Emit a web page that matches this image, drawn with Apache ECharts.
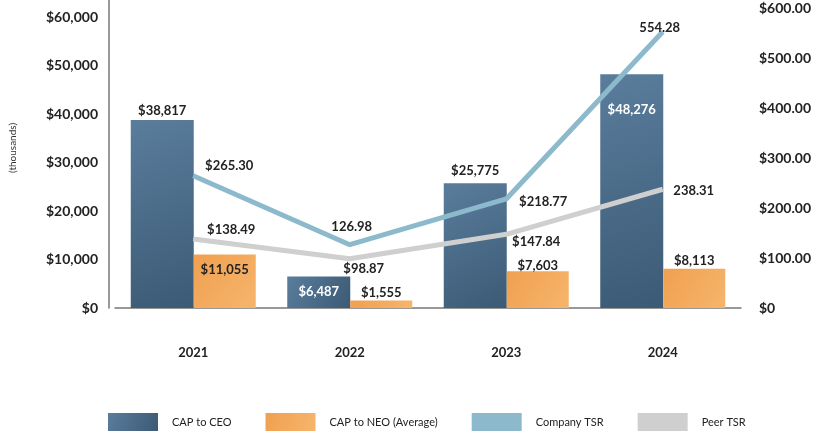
<!DOCTYPE html>
<html>
<head>
<meta charset="utf-8">
<script src="https://cdn.jsdelivr.net/npm/echarts@6/dist/echarts.min.js"></script>
<style>
  html, body { margin: 0; padding: 0; background: #fff; }
  #chart { width: 819px; height: 436px; }
</style>
</head>
<body>
<div id="chart"></div>
<script>
// values
const categories = ['2021', '2022', '2023', '2024'];
const capCeo = [38817, 6487, 25775, 48276];
const capNeo = [11055, 1555, 7603, 8113];
const companyTsr = [265.30, 126.98, 218.77, 554.28];
const peerTsr = [138.49, 98.87, 147.84, 238.31];
const companyTsrLabels = ['$265.30', '126.98', '$218.77', '554.28'];
const peerTsrLabels = ['$138.49', '$98.87', '$147.84', '238.31'];

// label placement (kept apart from the data)
const ceoLabelPos = [
    { position: 'top', offset: [0, 2], color: '#222' },
    { position: 'insideTop', offset: [0, 4], color: '#fff' },
    { position: 'top', offset: [0, -1], color: '#222' },
    { position: 'insideTop', offset: [0, 24], color: '#fff' }
];
const neoLabelPos = [
    { position: 'insideTop', offset: [0, 4] },
    { position: 'top', offset: [0, 4] },
    { position: 'top', offset: [0, 6] },
    { position: 'top', offset: [0, 4] }
];
const companyLabelPos = [[36, 2], [2, -6], [37, 14], [-3, 8]];
const peerLabelPos = [[38, 2], [14, 22], [30, 19], [31, 13]];

const FONT = 'Lato';
const money = v => '$' + v.toLocaleString('en-US');

const chart = echarts.init(document.getElementById('chart'));

const labelBase = {
    show: true,
    fontFamily: FONT,
    fontWeight: 'bold',
    fontSize: 13,
    color: '#222'
};

const option = {
    animation: false,
    textStyle: { fontFamily: FONT },
    grid: { left: 109, right: 78, top: 0, bottom: 128 },
    legend: {
        left: 108,
        top: 413,
        padding: 0,
        icon: 'rect',
        itemWidth: 50,
        itemHeight: 18,
        itemGap: 34,
        textStyle: { fontFamily: FONT, fontSize: 11, color: '#222', padding: [0, 0, 0, 9] },
        data: ['CAP to CEO', 'CAP to NEO (Average)', 'Company TSR', 'Peer TSR']
    },
    xAxis: {
        type: 'category',
        data: categories,
        axisTick: { show: false },
        axisLine: { lineStyle: { color: '#777', width: 1.5 } },
        axisLabel: { margin: 38, fontFamily: FONT, fontWeight: 'bold', fontSize: 13, color: '#222' }
    },
    yAxis: [
        {
            type: 'value',
            min: 0,
            max: 63610,
            interval: 10000,
            offset: 6,
            name: '(thousands)',
            nameLocation: 'middle',
            nameRotate: 90,
            nameGap: 91,
            nameTextStyle: { fontFamily: FONT, fontSize: 10, color: '#333', padding: [0, 0, 0, 12] },
            splitLine: { show: false },
            axisTick: { show: false },
            axisLine: { show: true, lineStyle: { color: '#777', width: 1.5 } },
            axisLabel: {
                showMaxLabel: false,
                margin: 11,
                fontFamily: FONT,
                fontWeight: 'bold',
                fontSize: 14,
                color: '#222',
                formatter: v => money(v)
            }
        },
        {
            type: 'value',
            position: 'right',
            min: 0,
            max: 618,
            interval: 100,
            splitLine: { show: false },
            axisTick: { show: false },
            axisLine: { show: false },
            axisLabel: {
                showMaxLabel: false,
                margin: 18,
                fontFamily: FONT,
                fontWeight: 'bold',
                fontSize: 14,
                color: '#222',
                formatter: v => v === 0 ? '$0' : '$' + v.toFixed(2)
            }
        }
    ],
    series: [
        {
            name: 'CAP to CEO',
            type: 'bar',
            barWidth: 63,
            barGap: '0%',
            itemStyle: {
                color: new echarts.graphic.LinearGradient(0, 0, 1, 1, [
                    { offset: 0, color: '#5a7d9c' },
                    { offset: 1, color: '#3b5a75' }
                ])
            },
            data: capCeo.map((v, i) => ({
                value: v,
                label: Object.assign({}, labelBase, ceoLabelPos[i], { formatter: money(v) })
            }))
        },
        {
            name: 'CAP to NEO (Average)',
            type: 'bar',
            barWidth: 62,
            itemStyle: {
                color: new echarts.graphic.LinearGradient(0, 0, 1, 1, [
                    { offset: 0, color: '#f0a050' },
                    { offset: 1, color: '#f6b56c' }
                ])
            },
            data: capNeo.map((v, i) => ({
                value: v,
                label: Object.assign({}, labelBase, neoLabelPos[i], { formatter: money(v) })
            }))
        },
        {
            name: 'Company TSR',
            type: 'line',
            yAxisIndex: 1,
            symbolSize: 0,
            showSymbol: true,
            color: '#8db9cc',
            lineStyle: { color: '#8db9cc', width: 5 },
            data: companyTsr.map((v, i) => ({
                value: v,
                label: Object.assign({}, labelBase, {
                    position: 'top',
                    offset: companyLabelPos[i],
                    formatter: companyTsrLabels[i]
                })
            }))
        },
        {
            name: 'Peer TSR',
            type: 'line',
            yAxisIndex: 1,
            symbolSize: 0,
            showSymbol: true,
            color: '#cfcfcf',
            lineStyle: { color: '#cfcfcf', width: 5 },
            data: peerTsr.map((v, i) => ({
                value: v,
                label: Object.assign({}, labelBase, {
                    position: 'top',
                    offset: peerLabelPos[i],
                    formatter: peerTsrLabels[i]
                })
            }))
        }
    ]
};

chart.setOption(option);
</script>
</body>
</html>
